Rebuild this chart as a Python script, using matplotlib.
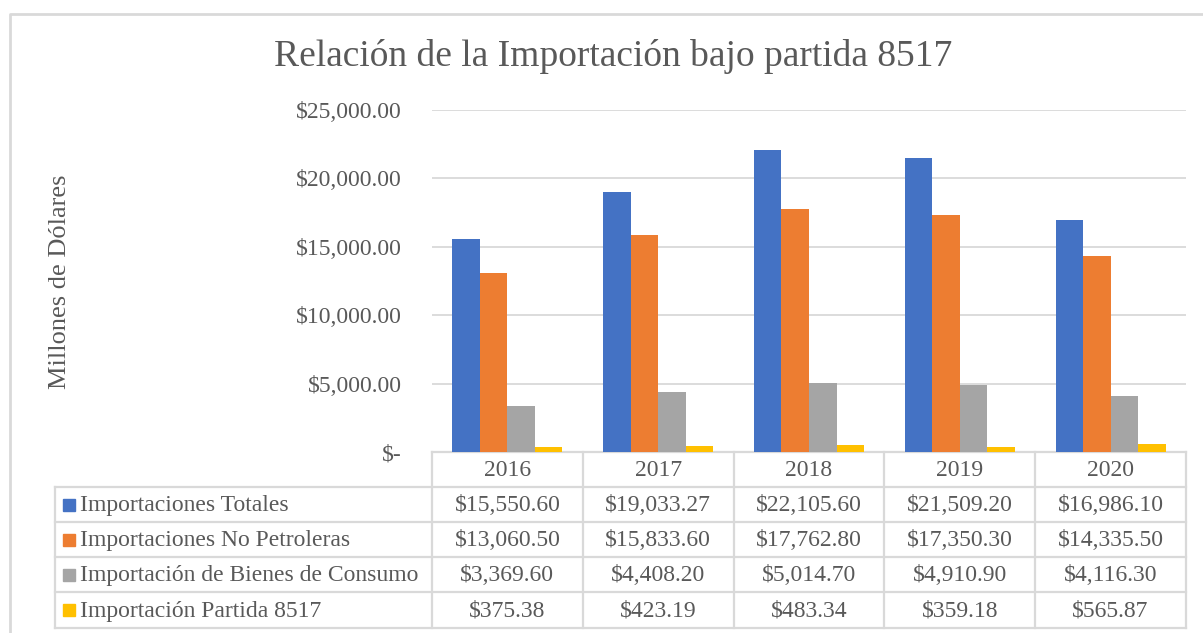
import matplotlib
matplotlib.use("Agg")
import matplotlib.pyplot as plt
import numpy as np

# Datos (millones de dólares)
years = ["2016", "2017", "2018", "2019", "2020"]
series_names = [
    "Importaciones Totales",
    "Importaciones No Petroleras",
    "Importación de Bienes de Consumo",
    "Importación Partida 8517",
]
totales = [15550.60, 19033.27, 22105.60, 21509.20, 16986.10]
no_petroleras = [13060.50, 15833.60, 17762.80, 17350.30, 14335.50]
bienes_consumo = [3369.60, 4408.20, 5014.70, 4910.90, 4116.30]
partida_8517 = [375.38, 423.19, 483.34, 359.18, 565.87]
colors = ["#4472C4", "#ED7D31", "#A5A5A5", "#FFC000"]

W, H = 1203, 633
TXT = "#595959"
GRID = "#D9D9D9"
FS = 17
plt.rcParams["font.family"] = ["Liberation Serif", "DejaVu Serif"]

fig = plt.figure(figsize=(W / 100, H / 100), dpi=100)

# capa de fondo en pixeles para marco y tabla
bg = fig.add_axes([0, 0, 1, 1])
bg.set_xlim(0, W)
bg.set_ylim(H, 0)
bg.axis("off")

# area de graficos
x0, x1 = 432, 1186
y_top, y_zero = 110, 452
ax = fig.add_axes([x0 / W, 1 - y_zero / H, (x1 - x0) / W, (y_zero - y_top) / H])
ax.patch.set_alpha(0)

all_series = [totales, no_petroleras, bienes_consumo, partida_8517]
n = len(all_series)
bw = 0.73 / n
xs = np.arange(len(years))
for i, (vals, c) in enumerate(zip(all_series, colors)):
    ax.bar(xs + (i - (n - 1) / 2) * bw, vals, width=bw, color=c, zorder=3)

ax.set_xlim(-0.5, len(years) - 0.5)
ax.set_ylim(0, 25000)
ticks = np.arange(0, 25001, 5000)
ax.set_yticks(ticks)
ax.set_yticklabels(["$-" if v == 0 else f"${v:,.2f}" for v in ticks],
                   fontsize=FS, color=TXT)
ax.tick_params(axis="y", length=0, pad=21.5)
ax.set_xticks([])
ax.grid(axis="y", color=GRID, linewidth=1.3, zorder=0)
for s in ax.spines.values():
    s.set_visible(False)

# marco exterior
bg.plot([10, 10, W], [H, 14, 14], color=GRID, linewidth=2, solid_capstyle="butt")

# titulo y etiqueta del eje
bg.text(613, 57, "Relación de la Importación bajo partida 8517", ha="center",
        va="center", fontsize=27, color=TXT)
bg.text(60, 282, "Millones de Dólares", rotation=90, ha="center", va="center",
        fontsize=19, color=TXT)

# tabla de datos
row_edges = [452, 487, 522, 557, 592, 628]
col_edges = list(np.linspace(x0, x1, len(years) + 1))
left_edge = 55
lw = 1.6
# lineas horizontales
bg.plot([x0, x1], [row_edges[0]] * 2, color=GRID, lw=lw)
for y in row_edges[1:]:
    bg.plot([left_edge, x1], [y, y], color=GRID, lw=lw)
# lineas verticales
for x in col_edges:
    bg.plot([x, x], [row_edges[0], row_edges[-1]], color=GRID, lw=lw)
bg.plot([left_edge, left_edge], [row_edges[1], row_edges[-1]], color=GRID, lw=lw)

for j, yr in enumerate(years):
    cx = (col_edges[j] + col_edges[j + 1]) / 2
    bg.text(cx, (row_edges[0] + row_edges[1]) / 2 + 1, yr, ha="center", va="center",
            fontsize=FS, color=TXT)

for i, (name, vals, c) in enumerate(zip(series_names, all_series, colors)):
    cy = (row_edges[i + 1] + row_edges[i + 2]) / 2
    bg.add_patch(plt.Rectangle((63, cy - 6), 12, 12, color=c))
    bg.text(80, cy + 1, name, ha="left", va="center", fontsize=FS, color=TXT)
    for j, v in enumerate(vals):
        cx = (col_edges[j] + col_edges[j + 1]) / 2
        bg.text(cx, cy + 1, f"${v:,.2f}", ha="center", va="center",
                fontsize=FS, color=TXT)

fig.savefig("out.png", dpi=100)
